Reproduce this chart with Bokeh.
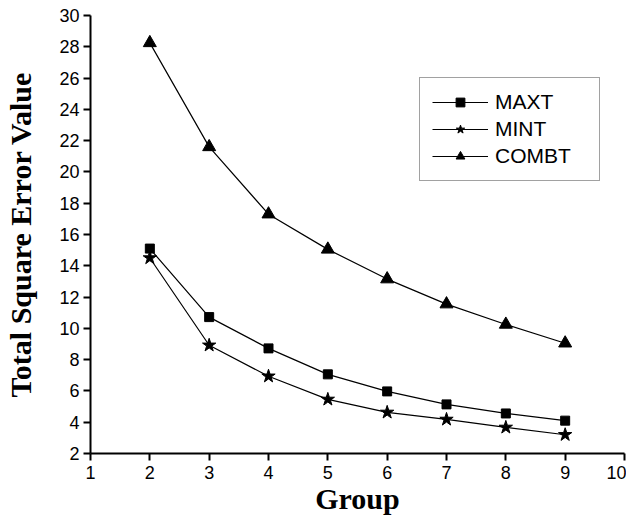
from bokeh.plotting import figure
from bokeh.models import Range1d, Legend, LegendItem, FixedTicker
from bokeh.embed import file_html
from bokeh.resources import INLINE

groups = [2, 3, 4, 5, 6, 7, 8, 9]
maxt = [15.1, 10.72, 8.72, 7.06, 5.97, 5.14, 4.56, 4.1]
mint = [14.5, 8.92, 6.94, 5.46, 4.63, 4.18, 3.67, 3.2]
combt = [28.25, 21.6, 17.3, 15.05, 13.15, 11.55, 10.25, 9.05]
x_ticks = [1, 2, 3, 4, 5, 6, 7, 8, 9, 10]
y_ticks = [2, 4, 6, 8, 10, 12, 14, 16, 18, 20, 22, 24, 26, 28, 30]

p = figure(width=626, height=517, output_backend="svg", toolbar_location=None,
           x_range=Range1d(1, 10), y_range=Range1d(2, 30),
           min_border_left=90, min_border_right=2, min_border_top=15, min_border_bottom=60)
p.outline_line_color = None
p.xgrid.visible = False
p.ygrid.visible = False
p.background_fill_color = "white"

for ax in (p.xaxis[0], p.yaxis[0]):
    ax.axis_line_width = 2
    ax.major_tick_line_width = 2
    ax.major_tick_out = 7
    ax.major_tick_in = 0
    ax.minor_tick_line_color = None
    ax.major_label_text_font = "Liberation Sans"
    ax.major_label_text_font_size = "18px"
    ax.major_label_text_color = "black"
    ax.axis_label_text_font = "Liberation Serif"
    ax.axis_label_text_font_style = "bold"
    ax.axis_label_text_font_size = "30px"
    ax.axis_label_text_color = "black"

p.xaxis.ticker = FixedTicker(ticks=x_ticks)
p.yaxis.ticker = FixedTicker(ticks=y_ticks)
p.xaxis.axis_label = "Group"
p.yaxis.axis_label = "Total Square Error Value"
p.xaxis.major_label_standoff = 5
p.yaxis.major_label_standoff = 4
p.xaxis.axis_label_standoff = 0
p.yaxis.axis_label_standoff = 19

l1 = p.line(groups, maxt, line_color="black", line_width=1.2)
m1 = p.scatter(groups, maxt, marker="square", size=9, color="black")
l2 = p.line(groups, mint, line_color="black", line_width=1.2)
m2 = p.scatter(groups, mint, marker="star", size=14, color="black")
l3 = p.line(groups, combt, line_color="black", line_width=1.2)
m3 = p.scatter(groups, combt, marker="triangle", size=13, color="black")

legend = Legend(items=[
    LegendItem(label="MAXT", renderers=[l1, m1]),
    LegendItem(label="MINT", renderers=[l2, m2]),
    LegendItem(label="COMBT", renderers=[l3, m3]),
], location=(329, 272))
legend.label_text_font = "Liberation Sans"
legend.label_text_font_size = "21px"
legend.label_text_color = "black"
legend.glyph_width = 56
legend.glyph_height = 22
legend.label_standoff = 7
legend.spacing = 3
legend.padding = 12
legend.margin = 0
legend.border_line_color = "#444444"
legend.border_line_width = 1.5
legend.label_width = 92
p.add_layout(legend, "center")

open("out.html", "w").write(file_html(p, INLINE))
